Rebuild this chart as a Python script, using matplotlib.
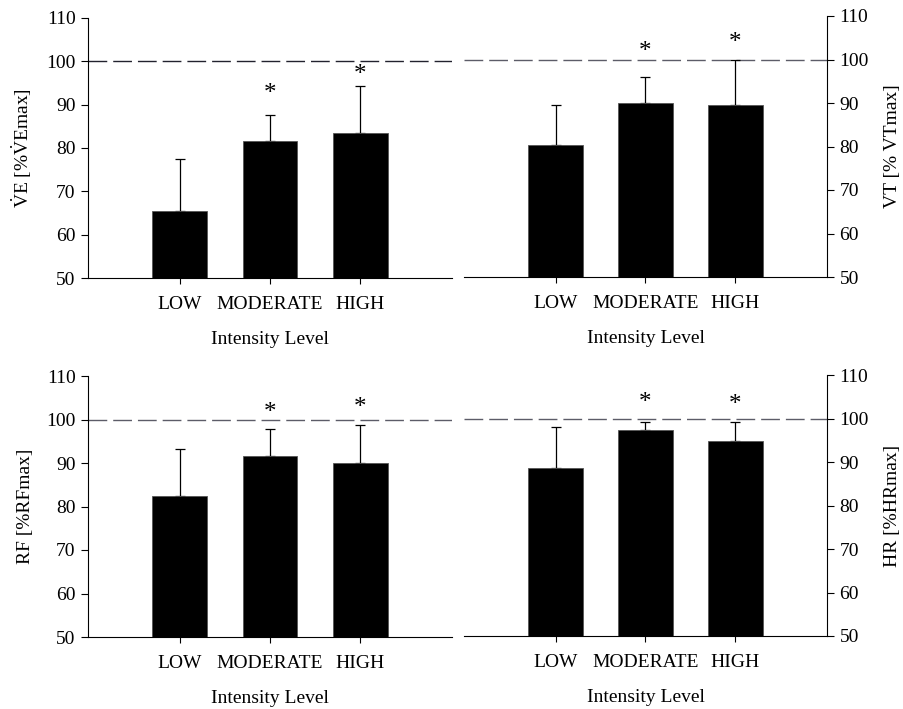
import numpy as np
import matplotlib
matplotlib.use('Agg')
import matplotlib.pyplot as plt

plt.rcParams['font.family'] = ['Liberation Serif', 'DejaVu Serif']
plt.rcParams['mathtext.fontset'] = 'custom'
plt.rcParams['mathtext.rm'] = 'Liberation Serif'
plt.rcParams['mathtext.it'] = 'Liberation Serif:italic'

levels = ['LOW', 'MODERATE', 'HIGH']

# mean and SD (upper bar only) per panel, % of max
ve_mean = [65.4, 81.7, 83.4]
ve_sd = [12.0, 6.0, 10.8]
ve_star = [None, 92.4, 96.9]

vt_mean = [80.3, 89.9, 89.6]
vt_sd = [9.2, 6.0, 10.3]
vt_star = [None, 101.8, 103.7]

rf_mean = [82.5, 91.6, 90.1]
rf_sd = [10.7, 6.3, 8.6]
rf_star = [None, 101.6, 102.6]

hr_mean = [88.7, 97.4, 94.8]
hr_sd = [9.4, 1.8, 4.5]
hr_star = [None, 103.5, 103.1]

panels = [
    (ve_mean, ve_sd, ve_star, r'$\dot{\mathrm{V}}\mathrm{E}\ [\%\dot{\mathrm{V}}\mathrm{Emax}]$', 'left', '#22222e',
     [88, 18, 452, 278]),
    (vt_mean, vt_sd, vt_star, 'VT [% VTmax]', 'right', '#5c5c68',
     [464, 16, 827, 277]),
    (rf_mean, rf_sd, rf_star, 'RF [%RFmax]', 'left', '#5c5c68',
     [88, 376, 452, 637]),
    (hr_mean, hr_sd, hr_star, 'HR [%HRmax]', 'right', '#5c5c68',
     [464, 375, 827, 636]),
]

W, H = 904, 709
fig = plt.figure(figsize=(W / 100, H / 100), dpi=100)

x = np.arange(len(levels))
for mean, sd, star, ylab, side, dash_col, box in panels:
    l, t, r, b = box
    ax = fig.add_axes([l / W, 1 - b / H, (r - l) / W, (b - t) / H])
    ax.bar(x, mean, width=0.61, bottom=0, color='black', edgecolor='#555555', linewidth=0.6, zorder=3)
    ax.errorbar(x, mean, yerr=[np.zeros(3), sd], fmt='none', ecolor='black',
                elinewidth=0.9, capsize=3.5, capthick=0.9, zorder=2)
    ln = ax.axhline(100, color=dash_col, lw=1.0, zorder=1)
    ln.set_dashes((13.5, 4.3))
    for xi, s in zip(x, star):
        if s is not None:
            ax.text(xi, s, '*', ha='center', va='center', fontsize=18)

    ax.set_xlim(-1.02, 3.02)
    ax.set_ylim(50, 110)
    ax.set_yticks(np.arange(50, 111, 10))
    ax.set_xticks(x)
    ax.set_xticklabels(levels, fontsize=14)
    ax.set_xlabel('Intensity Level', fontsize=14, labelpad=13)
    ax.tick_params(axis='x', length=4, width=0.8, pad=9, direction='out')
    ax.tick_params(axis='y', length=5, width=0.8, pad=4, labelsize=14, direction='out')

    ax.spines['top'].set_visible(False)
    if side == 'left':
        ax.spines['right'].set_visible(False)
        ax.set_ylabel(ylab, fontsize=14, labelpad=9)
    else:
        ax.spines['left'].set_visible(False)
        ax.yaxis.tick_right()
        ax.yaxis.set_label_position('right')
        ax.set_ylabel(ylab, fontsize=14, labelpad=11)
    for sp in ax.spines.values():
        sp.set_linewidth(0.8)
    ax.patch.set_visible(False)

fig.savefig('out.png', dpi=100)
